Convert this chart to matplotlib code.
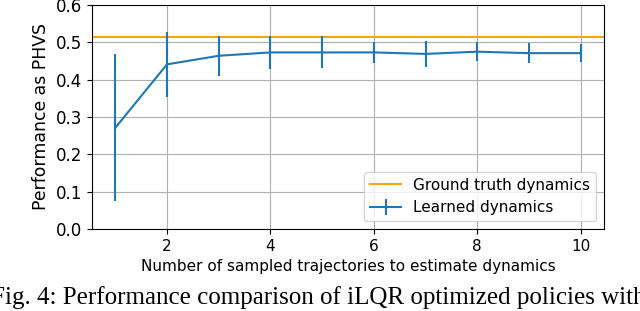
import matplotlib.pyplot as plt
import numpy as np

# number of sampled trajectories
n_traj = [1, 2, 3, 4, 5, 6, 7, 8, 9, 10]
learned_mean = [0.271, 0.441, 0.464, 0.473, 0.473, 0.473, 0.469, 0.475, 0.471, 0.471]
learned_err = [0.197, 0.087, 0.054, 0.045, 0.043, 0.029, 0.034, 0.025, 0.026, 0.025]
ground_truth = 0.513

caption = "Fig. 4: Performance comparison of iLQR optimized policies with"

fig = plt.figure(figsize=(6.4, 3.11), dpi=100)
ax = fig.add_axes([92 / 640, 82 / 311, 512 / 640, 224 / 311])

ax.axhline(ground_truth, color="orange", label="Ground truth dynamics")
ax.errorbar(n_traj, learned_mean, yerr=learned_err, color="tab:blue", label="Learned dynamics")

ax.set_ylim(0, 0.6)
ax.set_xticks([2, 4, 6, 8, 10])
ax.grid(True)
ax.tick_params(axis="x", labelsize=11)
ax.tick_params(axis="y", labelsize=12)
ax.set_xlabel("Number of sampled trajectories to estimate dynamics", fontsize=11)
ax.set_ylabel("Performance as PHVS", fontsize=12.4)
ax.legend(loc="lower right", fontsize=11)

fig.text(-9 / 640, 7 / 311, caption, family="Liberation Serif", fontsize=18,
         ha="left", va="baseline")

fig.savefig("out.png", dpi=100)
